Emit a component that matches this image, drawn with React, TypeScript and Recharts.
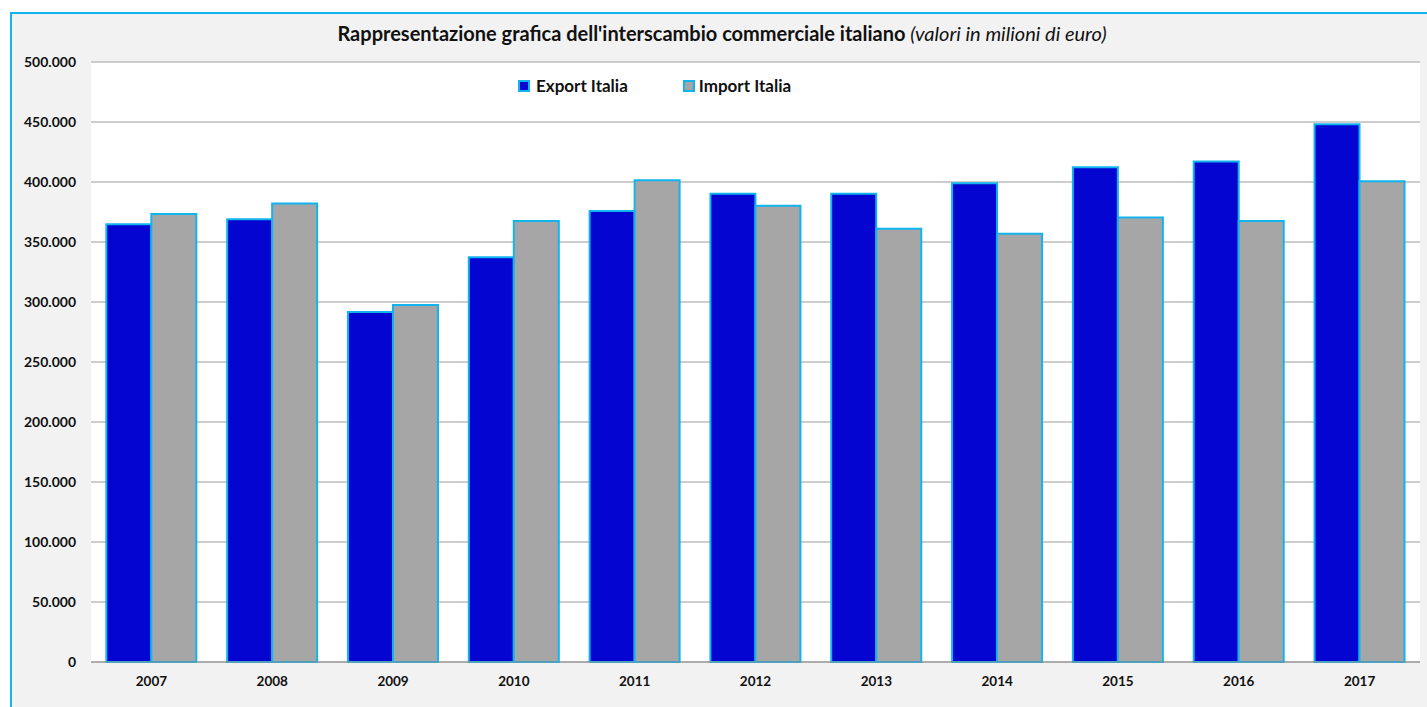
import { BarChart, Bar, XAxis, YAxis, CartesianGrid, Legend } from 'recharts';

const YEARS: string[] = ['2007', '2008', '2009', '2010', '2011', '2012', '2013', '2014', '2015', '2016', '2017'];

const EXPORT_ITALIA: number[] = [364700, 369000, 291700, 337300, 375900, 390200, 390200, 398900, 412300, 417100, 448100];
const IMPORT_ITALIA: number[] = [373300, 382000, 297600, 367400, 401400, 380300, 361000, 356900, 370500, 367600, 400700];

const Y_TICKS: number[] = [0, 50000, 100000, 150000, 200000, 250000, 300000, 350000, 400000, 450000, 500000];

const EXPORT_COLOR = '#0505d2';
const IMPORT_COLOR = '#a6a6a6';
const EDGE = '#12b4ee';
const FONT = 'Lato, "Open Sans", sans-serif';

// 500000 -> "500.000"
const fmt = (v: number) => String(v).replace(/\B(?=(\d{3})+(?!\d))/g, '.');

export default function App() {
    const data = YEARS.map((year, i) => ({
        year,
        exp: EXPORT_ITALIA[i],
        imp: IMPORT_ITALIA[i],
    }));

    return (
        <div style={{ position: 'absolute', left: 10, top: 12, width: 1430, height: 705, border: `2px solid ${EDGE}`, background: '#f2f2f2' }}>
            <BarChart
                width={1417}
                height={695}
                data={data}
                margin={{ top: 48, right: 9, bottom: 17, left: 0 }}
                barCategoryGap="12.7%"
                barGap={0}
                style={{ fontFamily: FONT }}
            >
                <text x={710} y={27} textAnchor="middle" fontSize={20} fill="#111">
                    <tspan fontWeight="bold">Rappresentazione grafica dell'interscambio commerciale italiano </tspan>
                    <tspan fontStyle="italic">(valori in milioni di euro)</tspan>
                </text>

                <CartesianGrid vertical={false} stroke="#bdbdbd" strokeWidth={1.5} fill="#ffffff" />
                <XAxis
                    dataKey="year"
                    height={30}
                    tickLine={false}
                    axisLine={{ stroke: '#8c8c8c' }}
                    tickMargin={8}
                    tick={{ fontSize: 13.5, fontWeight: 'bold', fill: '#111' }}
                />
                <YAxis
                    width={79}
                    domain={[0, 500000]}
                    ticks={Y_TICKS}
                    interval={0}
                    tickFormatter={fmt}
                    tickLine={false}
                    axisLine={false}
                    tickMargin={9}
                    tick={{ fontSize: 14, fontWeight: 'bold', fill: '#111' }}
                />
                <Legend
                    layout="horizontal"
                    verticalAlign="middle"
                    align="center"
                    wrapperStyle={{ top: 61, left: 506, width: 330 }}
                    content={() => (
                        <div style={{ display: 'flex', alignItems: 'center', fontFamily: FONT, fontWeight: 'bold', fontSize: 17, color: '#111' }}>
                            <div style={{ width: 8, height: 8, background: EXPORT_COLOR, border: `2px solid ${EDGE}` }}></div>
                            <span style={{ marginLeft: 6 }}>Export Italia</span>
                            <div style={{ width: 8, height: 8, background: IMPORT_COLOR, border: `2px solid ${EDGE}`, marginLeft: 55 }}></div>
                            <span style={{ marginLeft: 4 }}>Import Italia</span>
                        </div>
                    )}
                />
                <Bar dataKey="exp" name="Export Italia" fill={EXPORT_COLOR} stroke={EDGE} strokeWidth={2} isAnimationActive={false} />
                <Bar dataKey="imp" name="Import Italia" fill={IMPORT_COLOR} stroke={EDGE} strokeWidth={2} isAnimationActive={false} />
            </BarChart>
        </div>
    );
}
